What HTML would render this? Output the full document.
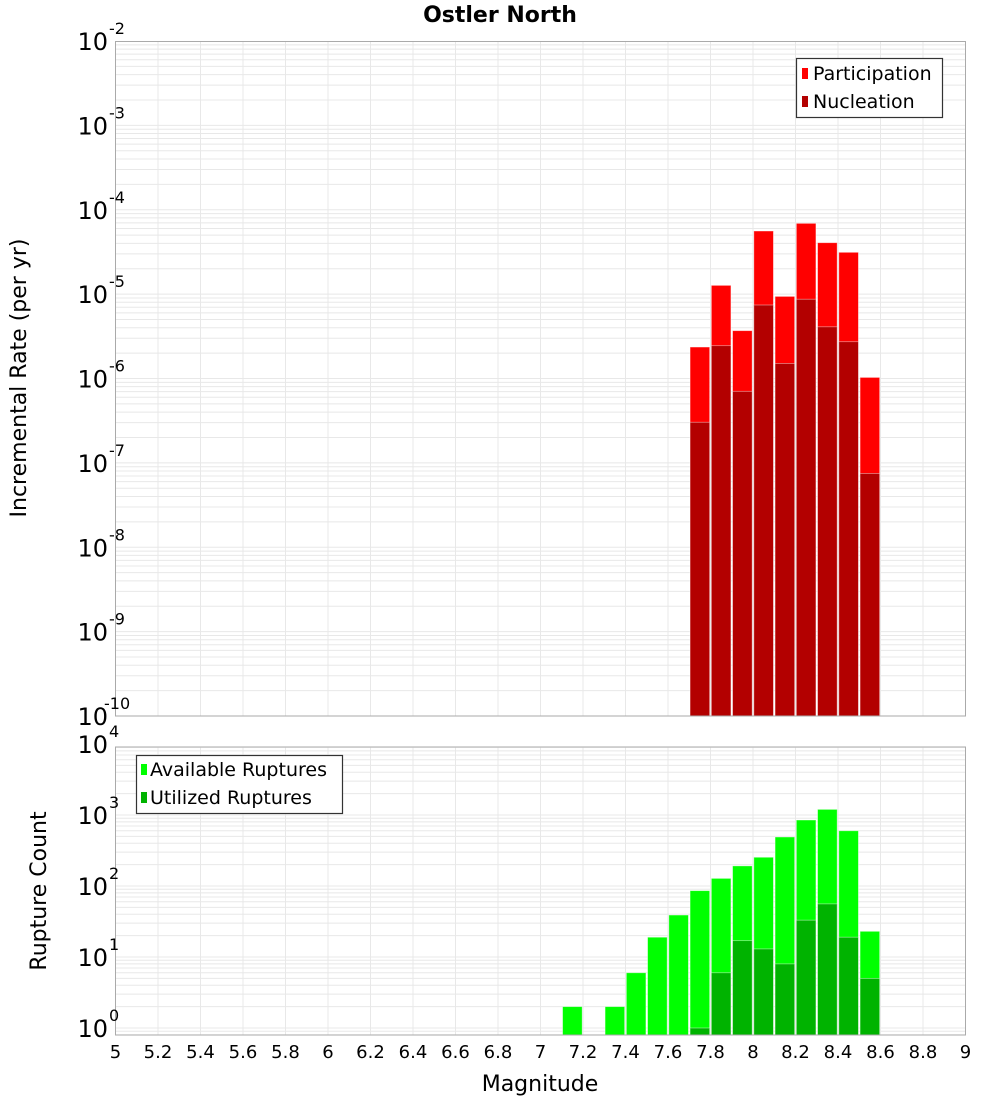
<!DOCTYPE html>
<html><head><meta charset="utf-8"><style>
body{margin:0;background:#fff;}
svg{display:block;font-family:"DejaVu Sans","Liberation Sans",sans-serif;}
</style></head><body>
<svg id="chart" width="1000" height="1100" viewBox="0 0 1000 1100">
<text x="500" y="22" text-anchor="middle" font-size="22" font-weight="bold">Ostler North</text>
<g id="topPlot"></g>
<g id="botPlot"></g>
<text transform="translate(26,378) rotate(-90)" text-anchor="middle" font-size="22">Incremental Rate (per yr)</text>
<text transform="translate(46,891) rotate(-90)" text-anchor="middle" font-size="22">Rupture Count</text>
<text x="540" y="1091" text-anchor="middle" font-size="22">Magnitude</text>
<g>
<rect x="796.5" y="58.5" width="146" height="59" fill="#fff" stroke="#333" stroke-width="1.2"/>
<rect x="802" y="68" width="6" height="11" fill="#ff0000"/>
<text x="813" y="80" font-size="19">Participation</text>
<rect x="802" y="96" width="6" height="11" fill="#b30000"/>
<text x="813" y="108" font-size="19">Nucleation</text>
</g>
<g>
<rect x="136.5" y="755.5" width="206" height="58" fill="#fff" stroke="#333" stroke-width="1.2"/>
<rect x="141" y="764" width="6" height="11" fill="#00ff00"/>
<text x="150" y="776" font-size="19">Available Ruptures</text>
<rect x="141" y="792" width="6" height="11" fill="#00b300"/>
<text x="150" y="804" font-size="19">Utilized Ruptures</text>
</g>
</svg>
<script>
const mags = [7.15,7.25,7.35,7.45,7.55,7.65,7.75,7.85,7.95,8.05,8.15,8.25,8.35,8.45,8.55];
const participation = [0,0,0,0,0,0,2.36e-6,1.27e-5,3.69e-6,5.6e-5,9.4e-6,6.9e-5,4.07e-5,3.13e-5,1.03e-6];
const nucleation = [0,0,0,0,0,0,3.03e-7,2.45e-6,7.05e-7,7.43e-6,1.51e-6,8.7e-6,4.1e-6,2.73e-6,7.5e-8];
const available = [2,0,2,6,19,39,86,128,192,254,490,850,1200,600,23];
const utilized = [0,0,0,0,0,0,1,6,17,13,8,33,56,19,5];
const xTicks = [5,5.2,5.4,5.6,5.8,6,6.2,6.4,6.6,6.8,7,7.2,7.4,7.6,7.8,8,8.2,8.4,8.6,8.8,9];
const rateExps = [-2,-3,-4,-5,-6,-7,-8,-9,-10];
const countExps = [4,3,2,1,0];

const NS="http://www.w3.org/2000/svg";
const X0=115.5,X1=965.5;
const xs=m=>X0+(m-5)/4*(X1-X0);
const topY=v=>716-84.375*(Math.log10(v)+10);
const botY=v=>1028-71*Math.log10(v);
function mk(parent,tag,attrs){const e=document.createElementNS(NS,tag);for(const k in attrs)e.setAttribute(k,attrs[k]);parent.appendChild(e);return e;}

function panel(g,yT,yB,yFn,expLo,expHi,name){
  mk(g,'rect',{x:X0,y:yT,width:X1-X0,height:yB-yT,fill:'#fff'});
  for(let e=expLo;e<expHi;e++){for(let k=1;k<10;k++){const y=yFn(k*Math.pow(10,e));if(y<yT||y>yB)continue;
    const l=mk(g,'line',{x1:X0,x2:X1,y1:y,y2:y,stroke:'#e8e8e8','stroke-width':1});
    
    }}
  xTicks.forEach(t=>{const x=xs(t);
    const l=mk(g,'line',{x1:x,x2:x,y1:yT,y2:yB,stroke:'#e8e8e8','stroke-width':1});
    
    });
}
function bars(g,vals,color,yFn,yB,name){
  vals.forEach((v,i)=>{if(!v)return;const c=xs(mags[i]);const y=yFn(v);
    const r=mk(g,'rect',{x:c-9.8,y:y,width:19.6,height:yB-y,fill:color,stroke:'rgba(255,255,255,0.5)','stroke-width':0.8});
    
    });
}
function border(g,yT,yB){mk(g,'rect',{x:X0,y:yT,width:X1-X0,height:yB-yT,fill:'none',stroke:'#aaa','stroke-width':1});}
function ylab(g,exp,y,name){
  const t=mk(g,'text',{x:108,y:y+9,'text-anchor':'end','font-size':24});
  
  
  t.textContent='10';
  const s=mk(g,'text',{x:exp<=-10?104:109,y:y-7,'font-size':16});
  
  
  s.textContent=String(exp);
}

const topG=document.getElementById('topPlot');
panel(topG,41.5,716,topY,-10,-2,'rate');
bars(topG,participation,'#ff0000',topY,716,'participation');
bars(topG,nucleation,'#b30000',topY,716,'nucleation');
border(topG,41.5,716);
rateExps.forEach(e=>{const y=topY(Math.pow(10,e));ylab(topG,e,y,'rate-tick-'+e);});
const botG=document.getElementById('botPlot');
panel(botG,747,1035,botY,-1,4,'count');
bars(botG,available,'#00ff00',botY,1035,'available');
bars(botG,utilized,'#00b300',botY,1035,'utilized');
border(botG,747,1035);
countExps.forEach(e=>{const y=botY(Math.pow(10,e));ylab(botG,e,y,'count-tick-'+e);});
xTicks.forEach(t=>{const tx=mk(botG,'text',{x:xs(t),y:1058,'text-anchor':'middle','font-size':18});
  
  
  tx.textContent=String(t);});
</script>
</body></html>
